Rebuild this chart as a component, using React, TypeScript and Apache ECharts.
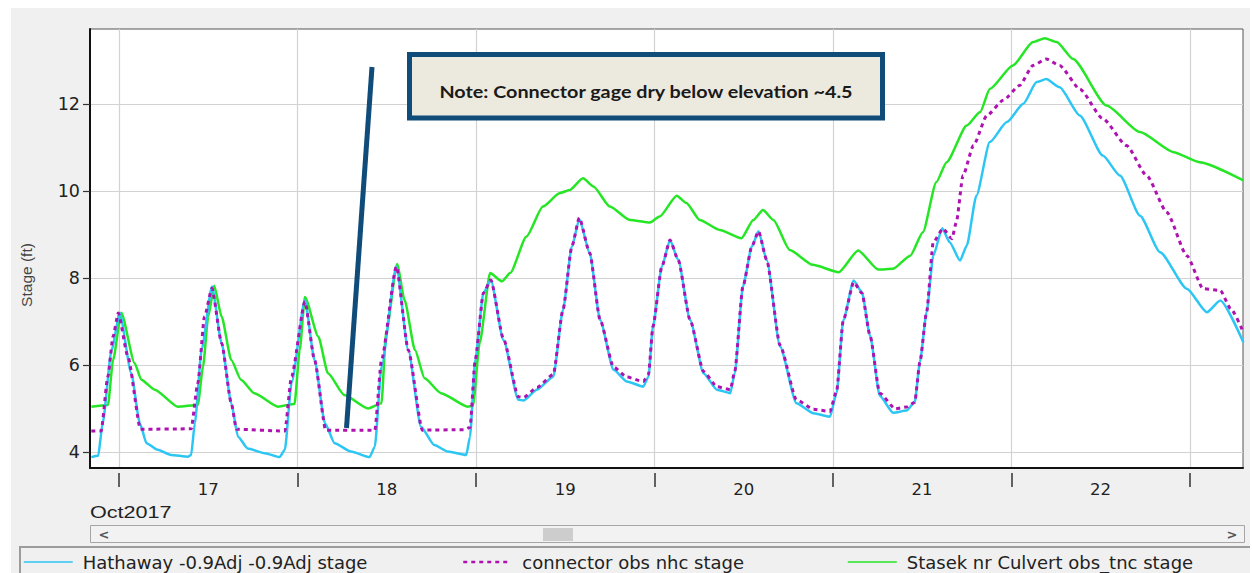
import React, { useEffect, useRef } from "react";
import * as echarts from "echarts";

// Hours since 17 Oct 2017 00:00
const X_MIN = -3.9;
const X_MAX = 151.15;
const Y_MIN = 3.63;
const Y_MAX = 13.72;

const dayTickHours = [0, 24, 48, 72, 96, 120, 144];
const dayLabelHours = [12, 36, 60, 84, 108, 132];
const dayLabels = ["17", "18", "19", "20", "21", "22"];
const stageTicks = [4, 6, 8, 10, 12];

const seriesNames = [
  "Hathaway -0.9Adj -0.9Adj stage",
  "connector obs nhc stage",
  "Stasek nr Culvert obs_tnc stage",
];

const hathaway: [number, number][] = [
  [-3.72, 3.88], [-2.8, 3.91], [-2.2, 4.66], [-1.0, 6.34], [0.1, 7.19], [1.65, 5.81], [2.8, 4.66],
  [3.7, 4.2], [5.2, 4.05], [7.0, 3.93], [9.3, 3.89], [9.7, 3.93], [10.2, 4.66], [11.1, 6.34],
  [12.5, 7.8], [13.8, 6.5], [15.1, 5.12], [16.0, 4.35], [17.3, 4.08], [19.6, 3.97], [21.6, 3.88],
  [22.3, 4.05], [23.2, 5.58], [25.0, 7.49], [26.3, 6.11], [27.7, 4.66], [29.0, 4.2], [31.2, 4.01],
  [33.7, 3.88], [34.4, 4.12], [35.3, 5.96], [37.3, 8.26], [38.9, 6.34], [40.6, 4.58], [42.4, 4.16],
  [44.2, 4.01], [46.7, 3.93], [47.2, 4.35], [47.9, 6.11], [49.0, 7.65], [50.0, 7.95], [51.7, 6.57],
  [53.7, 5.2], [54.4, 5.18], [56.2, 5.43], [58.4, 5.73], [59.7, 7.26], [60.9, 8.72], [61.9, 9.35],
  [63.3, 8.57], [64.7, 7.03], [66.5, 5.89], [68.3, 5.62], [70.5, 5.5], [71.2, 5.73], [71.8, 6.88],
  [73.0, 8.26], [74.1, 8.87], [75.2, 8.41], [76.8, 7.03], [78.6, 5.81], [80.4, 5.43], [82.2, 5.35],
  [82.8, 5.81], [83.9, 7.8], [85.1, 8.72], [86.0, 9.07], [87.1, 8.41], [88.9, 6.42], [91.1, 5.12],
  [93.4, 4.89], [95.6, 4.81], [96.5, 5.35], [97.4, 7.03], [98.8, 7.94], [99.9, 7.67], [101.0, 6.67],
  [102.3, 5.29], [104.1, 4.9], [105.9, 4.95], [107.0, 5.14], [107.7, 6.06], [108.6, 7.21], [109.5, 8.51],
  [110.7, 9.14], [111.7, 8.82], [113.1, 8.4], [114.0, 8.74], [115.3, 9.89], [117.1, 11.12], [119.4, 11.58],
  [121.6, 12.0], [123.4, 12.5], [124.7, 12.57], [126.5, 12.38], [129.2, 11.73], [132.3, 10.81],
  [134.6, 10.35], [137.3, 9.43], [140.0, 8.59], [143.6, 7.75], [146.3, 7.21], [148.1, 7.48], [151.2, 6.52],
];

const connector: [number, number][] = [
  [-3.72, 4.48], [-2.4, 4.48], [-1.5, 5.73], [-0.8, 6.65], [-0.1, 7.19], [1.2, 6.19], [2.9, 4.52],
  [9.7, 4.53], [10.6, 5.58], [11.5, 7.11], [12.5, 7.76], [13.8, 6.5], [15.1, 5.12], [15.8, 4.52],
  [22.3, 4.48], [23.2, 5.73], [25.0, 7.45], [26.3, 6.11], [27.8, 4.5], [34.4, 4.5], [35.3, 6.11],
  [37.3, 8.26], [38.9, 6.34], [40.8, 4.5], [46.4, 4.51], [47.2, 4.56], [47.9, 6.11], [49.0, 7.65],
  [50.0, 7.95], [51.7, 6.6], [53.7, 5.27], [54.4, 5.25], [56.2, 5.48], [58.4, 5.78], [59.7, 7.26],
  [60.9, 8.72], [61.9, 9.38], [63.3, 8.57], [64.7, 7.03], [66.5, 5.95], [68.3, 5.72], [70.5, 5.62],
  [71.2, 5.78], [71.8, 6.88], [73.0, 8.26], [74.1, 8.87], [75.2, 8.41], [76.8, 7.03], [78.6, 5.85],
  [80.4, 5.5], [82.2, 5.43], [82.8, 5.85], [83.9, 7.8], [85.1, 8.72], [86.0, 9.07], [87.1, 8.41],
  [88.9, 6.45], [91.1, 5.2], [93.4, 4.98], [95.6, 4.93], [96.5, 5.4], [97.4, 7.03], [98.8, 7.9],
  [99.9, 7.65], [101.0, 6.67], [102.3, 5.35], [104.4, 4.99], [105.9, 5.03], [107.0, 5.14], [107.7, 6.06],
  [108.6, 7.21], [109.5, 8.82], [110.8, 9.13], [112.0, 8.9], [112.6, 9.28], [113.5, 10.35], [114.9, 11.04],
  [116.7, 11.73], [118.9, 12.08], [121.1, 12.42], [122.9, 12.88], [124.7, 13.03], [126.5, 12.88],
  [129.2, 12.34], [132.3, 11.66], [135.5, 11.04], [138.2, 10.35], [140.9, 9.51], [143.6, 8.51],
  [145.8, 7.75], [148.1, 7.71], [149.5, 7.29], [151.2, 6.75],
];

const stasek: [number, number][] = [
  [-3.72, 5.04], [-1.48, 5.08], [-0.8, 6.11], [0.31, 7.2], [2.1, 6.04], [3.0, 5.66], [4.8, 5.43],
  [7.9, 5.04], [10.6, 5.08], [11.3, 5.96], [12.0, 7.11], [12.8, 7.82], [13.8, 7.11], [15.1, 6.11],
  [16.4, 5.66], [18.2, 5.35], [21.4, 5.04], [23.6, 5.1], [24.3, 6.34], [25.0, 7.56], [26.8, 6.65],
  [28.1, 5.81], [30.3, 5.31], [33.5, 5.0], [35.3, 5.12], [35.9, 6.72], [37.4, 8.32], [38.4, 7.49],
  [39.8, 6.34], [41.1, 5.69], [43.3, 5.35], [46.9, 5.04], [47.6, 5.06], [48.5, 6.5], [49.9, 8.11],
  [51.5, 7.92], [52.6, 8.11], [54.8, 8.95], [57.0, 9.64], [59.3, 9.95], [60.6, 10.02], [62.4, 10.29],
  [63.8, 10.1], [66.0, 9.64], [68.7, 9.33], [71.4, 9.27], [72.7, 9.41], [75.0, 9.89], [76.3, 9.72],
  [78.1, 9.33], [80.8, 9.1], [83.7, 8.91], [85.3, 9.33], [86.6, 9.56], [88.0, 9.33], [90.2, 8.64],
  [93.3, 8.3], [96.8, 8.13], [99.4, 8.63], [102.1, 8.19], [104.1, 8.21], [106.4, 8.51], [108.1, 9.05],
  [109.9, 10.2], [111.3, 10.66], [114.0, 11.5], [115.8, 11.81], [117.1, 12.34], [120.2, 12.88],
  [122.9, 13.42], [124.5, 13.51], [126.1, 13.42], [128.3, 13.03], [132.8, 11.96], [137.3, 11.35],
  [141.8, 10.89], [145.3, 10.66], [151.2, 10.24],
];

const seriesData = [hathaway, connector, stasek];
const seriesColors = ["#2cc6f4", "#ae12b0", "#25e625"];

const AXIS_FONT = "DejaVu Sans";
const NOTE_BLUE = "#0f4c79";

export default function App() {
  const ref = useRef<HTMLDivElement>(null);

  useEffect(() => {
    if (!ref.current) return;
    const chart = echarts.init(ref.current, undefined, { renderer: "svg" });

    const legendLefts = [23, 462, 847];
    const legendWidths = [49, 48, 49];
    const legendPads = [5, 6, 5];

    const option: any = {
      animation: false,
      backgroundColor: "#f0f0f0",
      grid: {
        left: 90,
        right: 9,
        top: 29,
        bottom: 105,
        show: true,
        backgroundColor: "#ffffff",
        borderColor: "#555555",
        borderWidth: 1,
      },
      xAxis: [
        {
          type: "value",
          min: X_MIN,
          max: X_MAX,
          position: "bottom",
          axisLine: { show: true, onZero: false, lineStyle: { color: "#111", width: 2 } },
          axisTick: { show: false, customValues: dayTickHours },
          axisLabel: { show: false, customValues: dayTickHours },
          splitLine: { show: true, lineStyle: { color: "#d2d2d2", width: 1.2 } },
        },
        {
          type: "value",
          min: X_MIN,
          max: X_MAX,
          position: "bottom",
          offset: 5,
          axisLine: { show: false, onZero: false },
          axisTick: {
            show: true,
            customValues: dayTickHours,
            length: 14,
            lineStyle: { color: "#333", width: 1.5 },
          },
          axisLabel: {
            show: true,
            customValues: dayLabelHours,
            margin: 8,
            fontFamily: AXIS_FONT,
            fontSize: 16.5,
            color: "#222",
            formatter: (v: number) => {
              const i = dayLabelHours.indexOf(Math.round(v));
              return i >= 0 ? dayLabels[i] : "";
            },
          },
          splitLine: { show: false },
        },
      ],
      yAxis: {
        type: "value",
        min: Y_MIN,
        max: Y_MAX,
        axisLine: { show: true, onZero: false, lineStyle: { color: "#111", width: 2 } },
        axisTick: { show: true, customValues: stageTicks, length: 7, lineStyle: { color: "#333", width: 1.2 } },
        axisLabel: {
          customValues: stageTicks,
          margin: 10,
          fontFamily: AXIS_FONT,
          fontSize: 17.5,
          color: "#222",
        },
        splitLine: { show: true, lineStyle: { color: "#d2d2d2", width: 1.2 } },
      },
      legend: seriesNames.map((name, i) => ({
        data: [name],
        left: legendLefts[i],
        top: 553,
        padding: 0,
        itemWidth: legendWidths[i],
        itemHeight: 16,
        selectedMode: false,
        textStyle: {
          fontFamily: AXIS_FONT,
          fontSize: 18,
          color: "#222",
          padding: [0, 0, 0, legendPads[i]],
        },
        itemStyle: { color: "rgba(0,0,0,0)", borderColor: "rgba(0,0,0,0)", borderWidth: 0, opacity: 0 },
        lineStyle: i === 1 ? { width: 2.5 } : { width: 1.5 },
      })),
      series: seriesNames.map((name, i) => ({
        name,
        type: "line",
        data: seriesData[i],
        symbol: "none",
        showSymbol: false,
        smooth: 0.2,
        smoothMonotone: "x",
        xAxisIndex: 0,
        yAxisIndex: 0,
        itemStyle: { color: seriesColors[i] },
        lineStyle:
          i === 1
            ? { color: seriesColors[i], width: 3, type: [4, 4] }
            : { color: seriesColors[i], width: 2.5 },
        z: i === 1 ? 4 : i === 0 ? 3 : 2,
      })),
      graphic: [
        { type: "rect", shape: { x: 0, y: 0, width: 11, height: 573 }, style: { fill: "#ffffff" }, silent: true },
        { type: "rect", shape: { x: 0, y: 0, width: 1252, height: 8 }, style: { fill: "#ffffff" }, silent: true },
        { type: "rect", shape: { x: 1250, y: 0, width: 2, height: 573 }, style: { fill: "#ffffff" }, silent: true },
        {
          type: "text",
          x: 26,
          y: 275,
          rotation: Math.PI / 2,
          style: {
            text: "Stage (ft)",
            fontFamily: "Liberation Sans",
            fontSize: 15.5,
            fill: "#444",
            align: "center",
            verticalAlign: "middle",
            textAlign: "center",
            textVerticalAlign: "middle",
          },
        },
        {
          type: "text",
          x: 90,
          y: 512,
          scaleX: 1.27,
          style: {
            text: "Oct2017",
            fontFamily: "Liberation Sans",
            fontSize: 17,
            fill: "#222",
            align: "left",
            verticalAlign: "middle",
            textAlign: "left",
            textVerticalAlign: "middle",
          },
        },
        // scrollbar
        {
          type: "rect",
          shape: { x: 90.5, y: 525.5, width: 1154, height: 17 },
          style: { fill: "#f2f2f2", stroke: "#a6a6a6", lineWidth: 1 },
        },
        { type: "rect", shape: { x: 543, y: 528, width: 30, height: 13 }, style: { fill: "#cdcdcd" } },
        {
          type: "text",
          x: 104,
          y: 534,
          style: { text: "<", fontFamily: "DejaVu Sans", fontSize: 13, fontWeight: "bold", fill: "#555", align: "center", verticalAlign: "middle", textAlign: "center", textVerticalAlign: "middle" },
        },
        {
          type: "text",
          x: 1232,
          y: 534,
          style: { text: ">", fontFamily: "DejaVu Sans", fontSize: 13, fontWeight: "bold", fill: "#555", align: "center", verticalAlign: "middle", textAlign: "center", textVerticalAlign: "middle" },
        },
        // legend frame
        {
          type: "rect",
          shape: { x: 20, y: 547, width: 1240, height: 40 },
          style: { fill: "#f0f0f0", stroke: "#9c9c9c", lineWidth: 2 },
          z: -1,
        },
        // note box
        {
          type: "rect",
          z: 100,
          shape: { x: 409.5, y: 54.5, width: 473, height: 63.5 },
          style: { fill: "#ece9df", stroke: NOTE_BLUE, lineWidth: 5 },
        },
        {
          type: "text",
          z: 101,
          x: 646,
          y: 91.5,
          scaleX: 1.13,
          style: {
            text: "Note: Connector gage dry below elevation ~4.5",
            fontFamily: "Lato",
            fontWeight: "bold",
            fontSize: 17.5,
            fill: "#1a1a1a",
            align: "center",
            verticalAlign: "middle",
            textAlign: "center",
            textVerticalAlign: "middle",
          },
        },
        {
          type: "line",
          z: 100,
          shape: { x1: 372, y1: 67, x2: 346.5, y2: 428 },
          style: { stroke: NOTE_BLUE, lineWidth: 5 },
        },
      ],
    };

    chart.setOption(option);
    return () => chart.dispose();
  }, []);

  return (
    <div
      ref={ref}
      style={{ position: "fixed", left: 0, top: 0, width: 1252, height: 573 }}
    />
  );
}
